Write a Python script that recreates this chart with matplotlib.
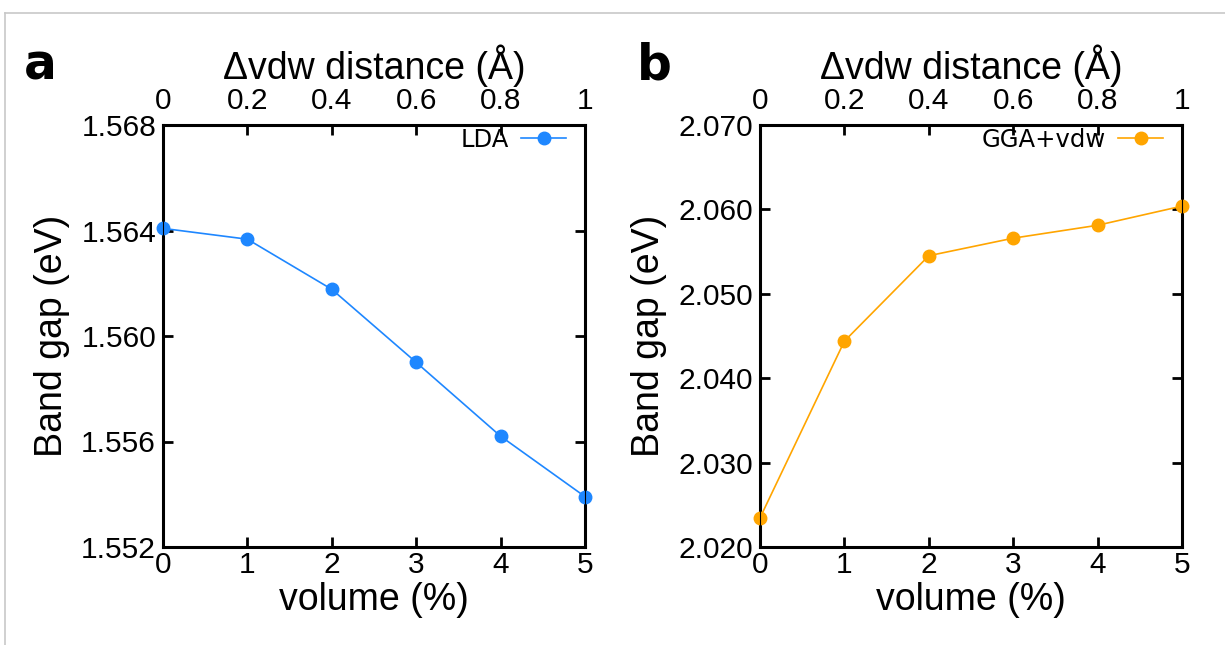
import matplotlib
matplotlib.use("Agg")
import matplotlib.pyplot as plt
from matplotlib.lines import Line2D
import numpy as np

plt.rcParams['font.family'] = ['Liberation Sans', 'DejaVu Sans']

volume = [0, 1, 2, 3, 4, 5]
lda_gap = [1.56408, 1.56367, 1.56177, 1.55900, 1.55620, 1.55391]
gga_gap = [2.02345, 2.04439, 2.05451, 2.05659, 2.05812, 2.06039]
vdw_ticks = [0, 0.2, 0.4, 0.6, 0.8, 1]
vdw_labels = ['0', '0.2', '0.4', '0.6', '0.8', '1']

W, H = 1225, 645
fig = plt.figure(figsize=(W/100, H/100), dpi=100)

# thin gray frame of the original figure (top and left only)
fig.add_artist(Line2D([5/W, 1], [1-13/H, 1-13/H], color='#c8c8c8', lw=1.2))
fig.add_artist(Line2D([5/W, 5/W], [0, 1-13/H], color='#c8c8c8', lw=1.2))


def panel(x0, y, color, label, ylim, yticks, yfmt, letter, letter_x):
    ax = fig.add_axes([x0/W, 1-547/H, 422/W, 422/H])
    ax.plot(volume, y, '-o', color=color, lw=1.2, ms=9, label=label, clip_on=False, zorder=5)
    ax.set_xlim(0, 5)
    ax.set_ylim(*ylim)
    ax.set_xticks(volume)
    ax.set_yticks(yticks)
    ax.set_yticklabels([yfmt % v for v in yticks])
    ax.tick_params(direction='in', length=7, width=2, labelsize=21.5, top=False, right=True, pad=5)
    ax.tick_params(axis='x', pad=3)
    for s in ax.spines.values():
        s.set_linewidth(2.2)
    ax.set_xlabel('volume (%)', fontsize=27, labelpad=2)
    ax.set_ylabel('Band gap (eV)', fontsize=27, labelpad=8)
    ax.legend(loc='upper right', bbox_to_anchor=(0.955, 0.993), markerfirst=False, frameon=False,
              prop={'family': 'DejaVu Sans', 'size': 17.5}, handlelength=1.85,
              borderaxespad=0, borderpad=0, handletextpad=0.5)
    top = ax.twiny()
    top.set_xlim(0, 1)
    top.set_xticks(vdw_ticks)
    top.set_xticklabels(vdw_labels)
    top.tick_params(direction='in', length=7, width=2, labelsize=21.5, pad=7)
    top.set_xlabel('Δvdw distance (Å)', fontsize=27, labelpad=6)
    fig.text(letter_x/W, 1-66/H, letter, fontsize=35, fontweight='bold', va='center', ha='left',
             family='DejaVu Sans')
    return ax


panel(163, lda_gap, '#1e87ff', 'LDA', (1.552, 1.568),
      [1.552, 1.556, 1.560, 1.564, 1.568], '%.3f', 'a', 24)
panel(760, gga_gap, '#ffa500', 'GGA+vdw', (2.020, 2.070),
      [2.020, 2.030, 2.040, 2.050, 2.060, 2.070], '%.3f', 'b', 637)

fig.savefig('out.png', dpi=100)
